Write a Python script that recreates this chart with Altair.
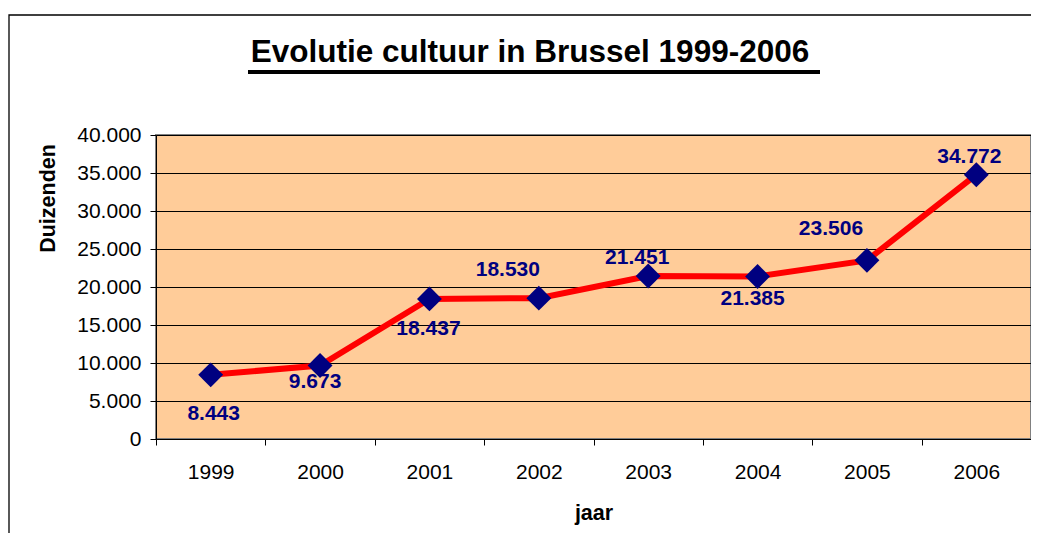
import altair as alt
import pandas as pd

# ---- data ----
YEARS = ["1999", "2000", "2001", "2002", "2003", "2004", "2005", "2006"]
VALUES = [8443, 9673, 18437, 18530, 21451, 21385, 23506, 34772]
Y_TICKS = [0, 5000, 10000, 15000, 20000, 25000, 30000, 35000, 40000]
TITLE = "Evolutie cultuur in Brussel 1999-2006"
X_TITLE = "jaar"
Y_TITLE = "Duizenden"

# ---- styles ----
FONT = "Liberation Sans"
LABEL_OFFSETS = {  # (dx, dy) per data label, as placed in the original
    "1999": (3, 39),
    "2000": (-5, 17),
    "2001": (-1, 30),
    "2002": (-31, -28),
    "2003": (-11, -18),
    "2004": (-5, 23),
    "2005": (-36, -31),
    "2006": (-7, -18),
}
PAD_LEFT = 148
PAD_TOP = 127

df = pd.DataFrame({"year": YEARS, "value": VALUES})
one = pd.DataFrame({"t": [TITLE]})

x_enc = alt.X(
    "year:N",
    sort=YEARS,
    scale=alt.Scale(type="band", paddingInner=0, paddingOuter=0),
    axis=alt.Axis(
        title=X_TITLE,
        labelAngle=0,
        tickBand="extent",
        domainColor="black",
        tickColor="black",
        tickSize=6,
        labelPadding=16,
        labelFont=FONT,
        labelFontSize=21,
        labelColor="black",
        titleFont=FONT,
        titleFontSize=21.5,
        titleFontWeight="bold",
        titleColor="black",
        titleY=80,
        titleBaseline="alphabetic",
        grid=False,
    ),
)
y_enc = alt.Y(
    "value:Q",
    scale=alt.Scale(domain=[0, 40000], nice=False),
    axis=alt.Axis(
        title=Y_TITLE,
        values=Y_TICKS,
        labelOverlap=False,
        labelExpr="replace(format(datum.value, ','), ',', '.')",
        domainColor="black",
        tickColor="black",
        tickSize=6,
        labelPadding=9,
        labelFont=FONT,
        labelFontSize=21,
        labelColor="black",
        gridColor="black",
        gridWidth=1,
        gridOpacity=1,
        titleFont=FONT,
        titleFontSize=21.5,
        titleFontWeight="bold",
        titleColor="black",
        titleAngle=270,
        titleX=-108,
        titleY=63,
        titleAlign="center",
        titleBaseline="middle",
    ),
)

base = alt.Chart(df)

line = base.mark_line(color="#FF0000", strokeWidth=6).encode(x=x_enc, y=y_enc)
points = base.mark_point(
    shape="diamond", filled=True, color="#000080", size=620, opacity=1
).encode(x=x_enc, y=y_enc)

labels = []
for yr in YEARS:
    dx, dy = LABEL_OFFSETS[yr]
    labels.append(
        base.transform_filter(alt.datum.year == yr)
        .transform_calculate(lab="replace(format(datum.value, ','), ',', '.')")
        .mark_text(
            dx=dx, dy=dy, font=FONT, fontSize=21, fontWeight="bold",
            color="#000080", baseline="middle", align="center",
        )
        .encode(x=x_enc, y=y_enc, text="lab:N")
    )

frame = alt.Chart(one).mark_rect(
    fill="transparent", stroke="black", strokeWidth=1.3
).encode(
    x=alt.value(9 - 8 - PAD_LEFT), y=alt.value(15 - 8 - PAD_TOP),
    x2=alt.value(960), y2=alt.value(480),
)

title = alt.Chart(one).mark_text(
    font=FONT, fontSize=31.5, fontWeight="bold", color="black",
    align="center", baseline="alphabetic",
).encode(text="t:N", x=alt.value(530 - 8 - PAD_LEFT), y=alt.value(-73))

underline = alt.Chart(one).mark_rule(color="black", strokeWidth=4).encode(
    x=alt.value(248 - 8 - PAD_LEFT), x2=alt.value(820 - 8 - PAD_LEFT), y=alt.value(-63)
)

chart = alt.layer(frame, line, points, *labels, title, underline).properties(
    width=875,
    height=304,
    autosize=alt.AutoSizeParams(type="none"),
    padding={"left": PAD_LEFT, "top": PAD_TOP, "right": 0, "bottom": 94},
    background="white",
).configure_view(
    fill="#FFCC99", stroke="#808080", strokeWidth=2
)

chart.save("out.html", embed_options={"renderer": "svg", "actions": False})
